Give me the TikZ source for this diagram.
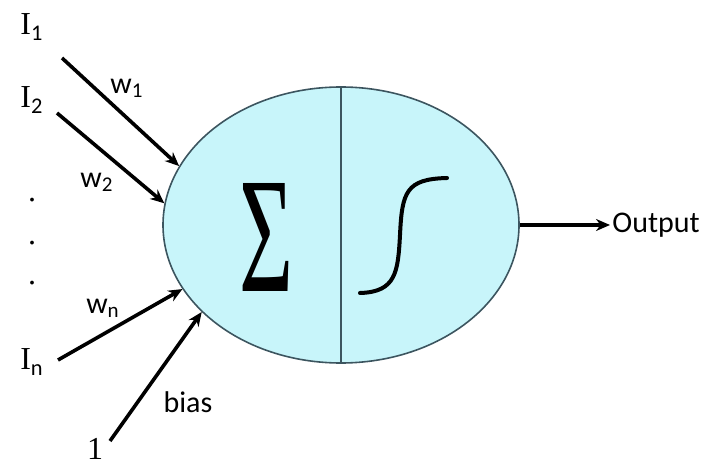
\documentclass[tikz,border=0pt]{standalone}
\usepackage{fontspec}
\setmainfont{Carlito}
\newfontfamily\timesfont{Liberation Serif}
\usetikzlibrary{arrows.meta,shapes.geometric}
\definecolor{cellcyan}{RGB}{200,245,250}
\definecolor{rimgrey}{RGB}{60,85,95}

\begin{document}
\begin{tikzpicture}[x=0.5pt,y=-0.5pt,
    wire/.style={line width=1.8pt,-{Stealth[length=7pt,width=6pt]}},
    inlab/.style={font=\timesfont\fontsize{16}{18}\selectfont,inner sep=0pt},
    wlab/.style={font=\fontsize{15}{18}\selectfont,inner sep=0pt}]
        \useasboundingbox (0,0) rectangle (715,469);
        % Neuron body
        \node[ellipse,draw=rimgrey,line width=0.8pt,fill=cellcyan,
          minimum width=178pt,minimum height=138pt,inner sep=0pt]
          (neuron) at (341,225) {};
        \draw[rimgrey,line width=0.8pt] (neuron.north) -- (neuron.south);
        % Summation and activation
        \node[inner sep=0pt] (sum) at (266,237)
          {\resizebox{27pt}{54pt}{\timesfont Σ}};
        \draw[line width=2pt,line cap=round]
          (360,293) .. controls (396,292) and (398,272) .. (400,235)
          .. controls (402,192) and (406,179) .. (447,178);
        % Inputs
        \node[inlab] (i1) at (32,27) {I\textsubscript{\rmfamily 1}};
        \node[inlab] (i2) at (32,100) {I\textsubscript{\rmfamily 2}};
        \node[inlab] (in) at (32,362) {I\textsubscript{\rmfamily n}};
        \node[inlab] (one) at (95,449) {1};
        \foreach \y [count=\k] in {200,243,283}
          \node[inlab] (dot\k) at (32,\y) {.};
        % Weighted connections
        \coordinate (t1) at (62,58);
        \coordinate (t2) at (57,113);
        \coordinate (tn) at (58,360);
        \coordinate (tb) at (110,441);
        \draw[wire] (t1) -- (neuron.160);
        \draw[wire] (t2) -- (neuron.173);
        \draw[wire] (tn) -- (neuron.202);
        \draw[wire] (tb) -- (neuron.212);
        \node[wlab] (w1) at (127,88) {w\textsubscript{1}};
        \node[wlab] (w2) at (97,182) {w\textsubscript{2}};
        \node[wlab] (wn) at (103,308) {w\textsubscript{n}};
        \node[wlab] (bias) at (188,402) {bias};
        % Output
        \node[wlab,anchor=west,inner sep=1pt] (out) at (610,225) {Output};
        \draw[wire] (neuron.east) -- (out.west);
      \end{tikzpicture}
\end{document}
